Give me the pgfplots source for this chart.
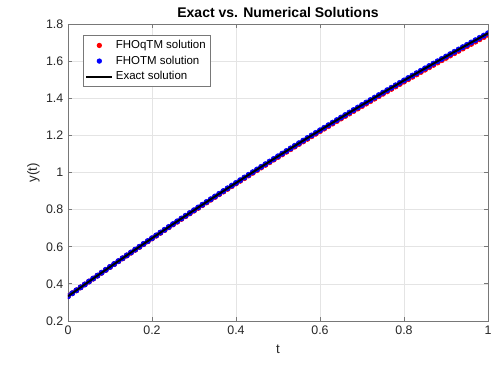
\documentclass[border=0pt]{standalone}
\usepackage{fontspec}
\setmainfont{Liberation Sans}
\usepackage{pgfplots}
\usepackage{pgfplotstable}
\pgfplotsset{compat=1.18}

% t, FHOqTM, FHOTM, exact
\pgfplotstableread{
t     fhoqtm  fhotm   exact
0.00  0.3333  0.3333  0.3333
0.01  0.3492  0.3493  0.3493
0.02  0.3651  0.3653  0.3653
0.03  0.3810  0.3812  0.3812
0.04  0.3967  0.3970  0.3970
0.05  0.4125  0.4129  0.4129
0.06  0.4282  0.4287  0.4287
0.07  0.4438  0.4444  0.4444
0.08  0.4596  0.4602  0.4602
0.09  0.4751  0.4758  0.4758
0.10  0.4907  0.4915  0.4915
0.11  0.5062  0.5071  0.5071
0.12  0.5217  0.5227  0.5227
0.13  0.5372  0.5382  0.5382
0.14  0.5526  0.5537  0.5537
0.15  0.5680  0.5692  0.5692
0.16  0.5833  0.5846  0.5846
0.17  0.5986  0.6000  0.6000
0.18  0.6140  0.6154  0.6154
0.19  0.6292  0.6307  0.6307
0.20  0.6444  0.6460  0.6460
0.21  0.6595  0.6612  0.6612
0.22  0.6747  0.6765  0.6765
0.23  0.6898  0.6916  0.6916
0.24  0.7049  0.7068  0.7068
0.25  0.7199  0.7219  0.7219
0.26  0.7348  0.7369  0.7369
0.27  0.7498  0.7520  0.7520
0.28  0.7648  0.7670  0.7670
0.29  0.7796  0.7819  0.7819
0.30  0.7944  0.7968  0.7968
0.31  0.8092  0.8117  0.8117
0.32  0.8240  0.8266  0.8266
0.33  0.8388  0.8414  0.8414
0.34  0.8534  0.8561  0.8561
0.35  0.8681  0.8709  0.8709
0.36  0.8827  0.8856  0.8856
0.37  0.8972  0.9002  0.9002
0.38  0.9119  0.9149  0.9149
0.39  0.9263  0.9294  0.9294
0.40  0.9408  0.9440  0.9440
0.41  0.9552  0.9585  0.9585
0.42  0.9696  0.9730  0.9730
0.43  0.9840  0.9874  0.9874
0.44  0.9983  1.0018  1.0018
0.45  1.0126  1.0162  1.0162
0.46  1.0268  1.0305  1.0305
0.47  1.0410  1.0448  1.0448
0.48  1.0553  1.0591  1.0591
0.49  1.0694  1.0733  1.0733
0.50  1.0835  1.0875  1.0875
0.51  1.0975  1.1016  1.1016
0.52  1.1116  1.1158  1.1158
0.53  1.1256  1.1298  1.1298
0.54  1.1396  1.1439  1.1439
0.55  1.1535  1.1579  1.1579
0.56  1.1673  1.1718  1.1718
0.57  1.1812  1.1858  1.1858
0.58  1.1951  1.1997  1.1997
0.59  1.2088  1.2135  1.2135
0.60  1.2225  1.2273  1.2273
0.61  1.2362  1.2411  1.2411
0.62  1.2499  1.2549  1.2549
0.63  1.2636  1.2686  1.2686
0.64  1.2771  1.2822  1.2822
0.65  1.2907  1.2959  1.2959
0.66  1.3042  1.3095  1.3095
0.67  1.3176  1.3230  1.3230
0.68  1.3312  1.3366  1.3366
0.69  1.3445  1.3500  1.3500
0.70  1.3579  1.3635  1.3635
0.71  1.3712  1.3769  1.3769
0.72  1.3845  1.3903  1.3903
0.73  1.3978  1.4036  1.4036
0.74  1.4110  1.4169  1.4169
0.75  1.4242  1.4302  1.4302
0.76  1.4373  1.4434  1.4434
0.77  1.4504  1.4566  1.4566
0.78  1.4636  1.4698  1.4698
0.79  1.4766  1.4829  1.4829
0.80  1.4896  1.4960  1.4960
0.81  1.5025  1.5090  1.5090
0.82  1.5155  1.5221  1.5221
0.83  1.5284  1.5350  1.5350
0.84  1.5413  1.5480  1.5480
0.85  1.5541  1.5609  1.5609
0.86  1.5668  1.5737  1.5737
0.87  1.5796  1.5866  1.5866
0.88  1.5924  1.5994  1.5994
0.89  1.6050  1.6121  1.6121
0.90  1.6176  1.6248  1.6248
0.91  1.6302  1.6375  1.6375
0.92  1.6428  1.6502  1.6502
0.93  1.6554  1.6628  1.6628
0.94  1.6678  1.6753  1.6753
0.95  1.6803  1.6879  1.6879
0.96  1.6927  1.7004  1.7004
0.97  1.7050  1.7128  1.7128
0.98  1.7175  1.7253  1.7253
0.99  1.7297  1.7376  1.7376
1.00  1.7420  1.7500  1.7500
}\soltable

\definecolor{axgray}{RGB}{120,120,120}
\definecolor{txtgray}{RGB}{38,38,38}
\definecolor{gridgray}{RGB}{228,228,228}

\begin{document}
\begin{tikzpicture}
% frame the page at the reference size (1px = 0.75pt)
\path[use as bounding box] (-51pt,-33pt) rectangle (326.25pt,240.75pt);
\begin{axis}[
    at={(0,0)}, anchor=south west,
    scale only axis,
    width=315pt, height=222.75pt,
    xmin=0, xmax=1, ymin=0.2, ymax=1.8,
    xtick={0,0.2,...,1}, ytick={0.2,0.4,...,1.8},
    xticklabels={0,0.2,0.4,0.6,0.8,1},
    yticklabels={0.2,0.4,0.6,0.8,1,1.2,1.4,1.6,1.8},
    tick align=inside,
    major tick length=3pt,
    clip marker paths=true,
    axis line style={axgray, line width=0.6pt},
    tick style={axgray, line width=0.6pt},
    grid=major, grid style={gridgray, line width=0.5pt},
    tick label style={font=\fontsize{9.3}{11}\selectfont, text=txtgray},
    xlabel={t}, ylabel={y(t)},
    label style={font=\fontsize{10}{12}\selectfont, text=txtgray},
    xlabel style={yshift=-1pt},
    ylabel style={yshift=-2pt},
    title={\textbf{Exact vs. Numerical Solutions}},
    title style={font=\fontsize{10.5}{12}\selectfont, yshift=-5pt},
    legend style={at={(0.036,0.962)}, anchor=north west,
        font=\fontsize{8.6}{10}\selectfont, draw=axgray, line width=0.5pt,
        inner sep=1.5pt, row sep=0pt, text=black},
    legend cell align=left,
    legend image code/.code={\draw[#1, line width=1.5pt] (0cm,0cm) -- (0.68cm,0cm);},
]
\addplot[only marks, mark=*, mark size=2pt, color=red, draw=none,
    legend image code/.code={\fill[red] (0.34cm,0cm) circle (2pt);}]
    table[x=t, y=fhoqtm] {\soltable};
\addlegendentry{FHOqTM solution}
\addplot[only marks, mark=*, mark size=2pt, color=blue, draw=none,
    legend image code/.code={\fill[blue] (0.34cm,0cm) circle (2pt);}]
    table[x=t, y=fhotm] {\soltable};
\addlegendentry{FHOTM solution}
\addplot[black, line width=1.5pt, no marks] table[x=t, y=exact] {\soltable};
\addlegendentry{Exact solution}
\end{axis}
\end{tikzpicture}
\end{document}
